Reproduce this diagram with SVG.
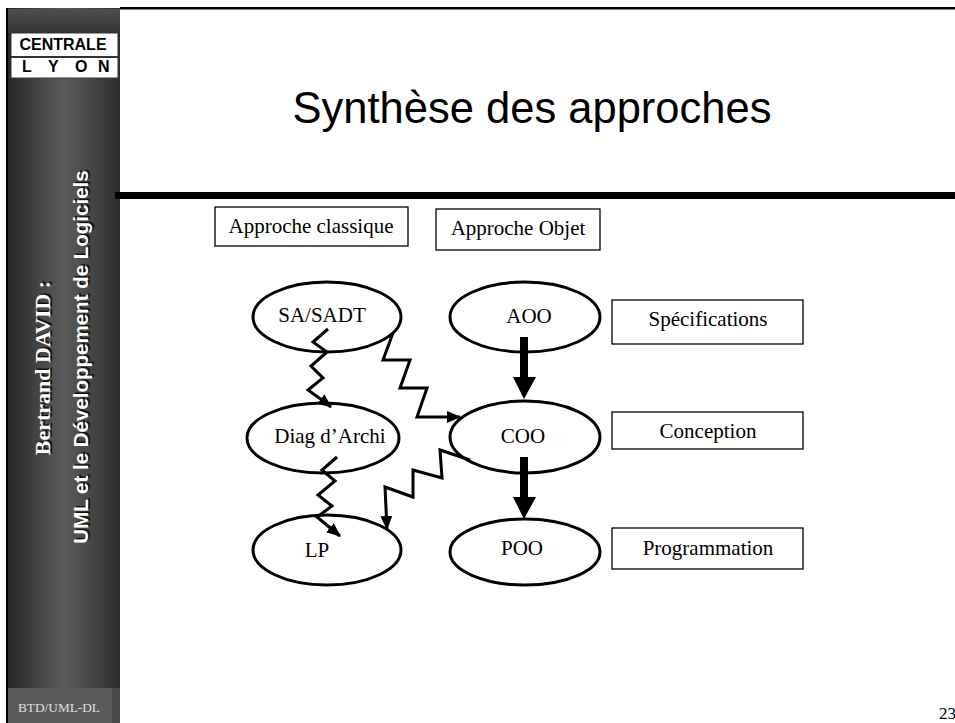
<svg xmlns="http://www.w3.org/2000/svg" width="955" height="723" viewBox="0 0 955 723">
<defs>
<linearGradient id="side" x1="0" y1="0" x2="1" y2="0">
<stop offset="0" stop-color="#262626"/>
<stop offset="0.5" stop-color="#5c5c5c"/>
<stop offset="1" stop-color="#2e2e2e"/>
</linearGradient>
<linearGradient id="sidetop" x1="0" y1="0" x2="0" y2="1">
<stop offset="0" stop-color="#4e4e4e"/>
<stop offset="1" stop-color="#353535"/>
</linearGradient>
<marker id="ah" markerUnits="userSpaceOnUse" markerWidth="14" markerHeight="12" viewBox="0 0 14 12" refX="13" refY="6" orient="auto">
<path d="M0,0 L14,6 L0,12 Z" fill="#000"/>
</marker>
<style>
.ell{fill:#fff;stroke:#000;stroke-width:3}
.box{fill:#fff;stroke:#000;stroke-width:1.3}
.lbl{font-family:"Liberation Serif","Times New Roman",serif;font-size:21px;fill:#000;text-anchor:middle}
.zig{fill:none;stroke:#000;stroke-width:3;stroke-linejoin:miter;marker-end:url(#ah)}
.thick{fill:#000;stroke:none}
</style>
</defs>
<rect width="955" height="723" fill="#fff"/>
<g id="sidebar">
<rect x="7" y="8" width="113" height="715" fill="url(#side)"/>
<rect x="8" y="9" width="112" height="24" fill="url(#sidetop)"/>
<rect x="8" y="688" width="104" height="35" fill="#5a5a5a"/>
<rect x="112" y="688" width="8" height="35" fill="#4a4a4a"/>
<rect x="6" y="8" width="2" height="715" fill="#000"/>
<rect x="11" y="33" width="107" height="45" fill="#fff" stroke="#333" stroke-width="1"/>
<line x1="11" y1="57" x2="118" y2="57" stroke="#333" stroke-width="2"/>
<text x="63" y="50" font-family="Liberation Sans, Arial, sans-serif" font-weight="bold" font-size="16" text-anchor="middle" fill="#000">CENTRALE</text>
<text x="22 32 48 59 75 87 98" y="72" font-family="Liberation Sans, Arial, sans-serif" font-weight="bold" font-size="16" fill="#000">L Y O N</text>
<g transform="translate(50,368) rotate(-90)">
<text x="1.5" y="1.5" font-family="Liberation Serif, Times New Roman, serif" font-weight="bold" font-size="22" text-anchor="middle" fill="#111">Bertrand DAVID :</text>
<text x="0" y="0" font-family="Liberation Serif, Times New Roman, serif" font-weight="bold" font-size="22" text-anchor="middle" fill="#fff">Bertrand DAVID :</text>
</g>
<g transform="translate(88,357) rotate(-90)">
<text x="1.5" y="1.5" font-family="Liberation Sans, Arial, sans-serif" font-weight="bold" font-size="20.5" text-anchor="middle" fill="#111">UML et le Développement de Logiciels</text>
<text x="0" y="0" font-family="Liberation Sans, Arial, sans-serif" font-weight="bold" font-size="20.5" text-anchor="middle" fill="#fff">UML et le Développement de Logiciels</text>
</g>
<text x="18" y="712" font-family="Liberation Serif, Times New Roman, serif" font-size="13.3" fill="#e0e0e0">BTD/UML-DL</text>
</g>
<g id="frame">
<rect x="120" y="7" width="835" height="2.5" fill="#000"/>
<rect x="115" y="192" width="840" height="7" fill="#000"/>
<text x="532" y="123" font-family="Liberation Sans, Arial, sans-serif" font-size="43.5" text-anchor="middle" fill="#000">Synthèse des approches</text>
<text x="939" y="719" font-family="Liberation Serif, Times New Roman, serif" font-size="17" fill="#000">23</text>
</g>
<g id="box-classique"><rect class="box" x="215" y="207" width="193" height="39"/><text class="lbl" x="311" y="233">Approche classique</text></g>
<g id="box-objet"><rect class="box" x="436" y="209" width="164" height="41"/><text class="lbl" x="518" y="235">Approche Objet</text></g>
<g id="box-spec"><rect class="box" x="612" y="300" width="191" height="44"/><text class="lbl" x="708" y="326">Spécifications</text></g>
<g id="box-conception"><rect class="box" x="612" y="412" width="191" height="37"/><text class="lbl" x="708" y="438">Conception</text></g>
<g id="box-prog"><rect class="box" x="612" y="528" width="191" height="41"/><text class="lbl" x="708" y="555">Programmation</text></g>
<g id="n-sasadt"><ellipse class="ell" cx="327" cy="317" rx="74" ry="35"/><text class="lbl" x="322" y="322">SA/SADT</text></g>
<g id="n-diag"><ellipse class="ell" cx="323" cy="438" rx="76" ry="35"/><text class="lbl" x="330" y="443">Diag d’Archi</text></g>
<g id="n-lp"><ellipse class="ell" cx="327" cy="550" rx="74" ry="35"/><text class="lbl" x="317" y="557">LP</text></g>
<g id="n-aoo"><ellipse class="ell" cx="525" cy="317" rx="75" ry="35"/><text class="lbl" x="529" y="323">AOO</text></g>
<g id="n-coo"><ellipse class="ell" cx="525" cy="437" rx="75" ry="36"/><text class="lbl" x="523" y="443">COO</text></g>
<g id="n-poo"><ellipse class="ell" cx="525" cy="552" rx="75" ry="33"/><text class="lbl" x="522" y="555">POO</text></g>
<g id="connectors">
<path class="zig" d="M328,329 L313,342 L327,352 L311,366 L323,378 L308,390 L322,400 L331,407"/>
<path class="zig" d="M393,333 L383,360 L410,360 L400,388 L427,388 L417,417 L460,417"/>
<path class="zig" d="M470,460 L440,450 L442,478 L413,470 L413,497 L385,487 L387,529"/>
<path class="zig" d="M337,457 L322,470 L335,481 L318,495 L332,506 L317,517 L340,536"/>
<path class="thick" d="M520,337 H528 V377 H536 L524,399 L513,377 H520 Z"/>
<path class="thick" d="M520,457 H528 V497 H536 L524,519 L513,497 H520 Z"/>
</g>
</svg>
